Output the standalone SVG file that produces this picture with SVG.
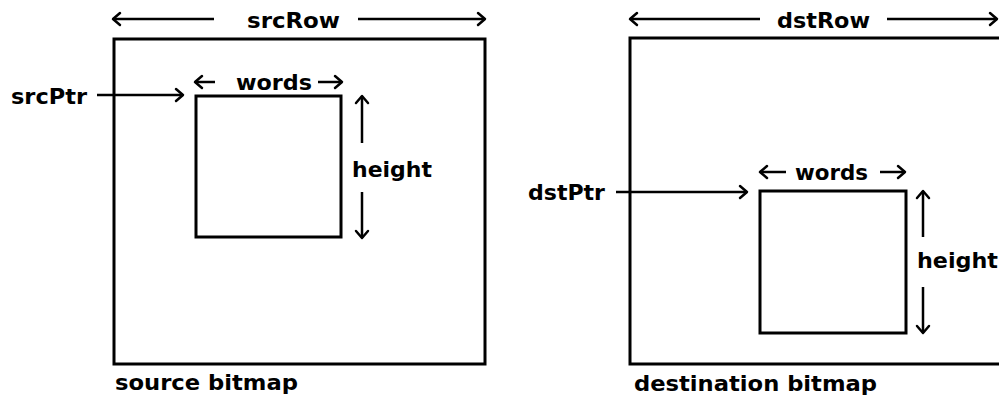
<svg xmlns="http://www.w3.org/2000/svg" width="999" height="400" viewBox="0 0 999 400">
<style>
  .box{fill:none;stroke:#000;stroke-width:3;stroke-linejoin:miter}
  .arr{fill:none;stroke:#000;stroke-width:2.5;marker-end:url(#ah)}
  .t{font-family:"DejaVu Sans","Liberation Sans",sans-serif;font-weight:bold;font-size:22px;fill:#000}
</style>
<defs>
  <marker id="ah" markerUnits="userSpaceOnUse" viewBox="-10 -8 12 16" markerWidth="12" markerHeight="16" refX="0" refY="0" orient="auto" overflow="visible">
    <path d="M-7,-6 L0,0 L-7,6" fill="none" stroke="#000" stroke-width="2.5" stroke-linecap="round" stroke-linejoin="round"/>
  </marker>
</defs>
<rect width="999" height="400" fill="#fff"/>

<g id="source-bitmap">
  <rect class="box" x="114" y="39" width="371" height="325"/>
  <text class="t" x="115" y="390" textLength="183" lengthAdjust="spacingAndGlyphs">source bitmap</text>
</g>
<g id="source-rect">
  <rect class="box" x="196" y="96" width="145" height="141"/>
</g>
<g id="dest-bitmap">
  <path class="box" d="M1002,38 L630,38 L630,364 L1002,364"/>
  <text class="t" x="634" y="391" textLength="243" lengthAdjust="spacingAndGlyphs">destination bitmap</text>
</g>
<g id="dest-rect">
  <rect class="box" x="760" y="191" width="146" height="142"/>
</g>

<g id="labels">
  <text class="t" x="247" y="28" textLength="93" lengthAdjust="spacingAndGlyphs">srcRow</text>
  <text class="t" x="236" y="90" textLength="76" lengthAdjust="spacingAndGlyphs">words</text>
  <text class="t" x="11" y="104" textLength="76" lengthAdjust="spacingAndGlyphs">srcPtr</text>
  <text class="t" x="352" y="177" textLength="80" lengthAdjust="spacingAndGlyphs">height</text>
  <text class="t" x="777" y="28" textLength="93" lengthAdjust="spacingAndGlyphs">dstRow</text>
  <text class="t" x="795" y="180" textLength="73" lengthAdjust="spacingAndGlyphs">words</text>
  <text class="t" x="528" y="200" textLength="77" lengthAdjust="spacingAndGlyphs">dstPtr</text>
  <text class="t" x="917" y="268" textLength="81" lengthAdjust="spacingAndGlyphs">height</text>
</g>

<g id="connectors">
  <line class="arr" x1="214" y1="19" x2="113" y2="19"/>
  <line class="arr" x1="358" y1="19" x2="485" y2="19"/>
  <line class="arr" x1="215" y1="82" x2="195" y2="82"/>
  <line class="arr" x1="318" y1="82" x2="342" y2="82"/>
  <line class="arr" x1="97" y1="95" x2="183" y2="95"/>
  <line class="arr" x1="362" y1="143" x2="362" y2="96"/>
  <line class="arr" x1="362" y1="192" x2="362" y2="238"/>

  <line class="arr" x1="760" y1="19" x2="630" y2="19"/>
  <line class="arr" x1="887" y1="19" x2="997" y2="19"/>
  <line class="arr" x1="786" y1="172" x2="760" y2="172"/>
  <line class="arr" x1="880" y1="172" x2="905" y2="172"/>
  <line class="arr" x1="616" y1="192" x2="747" y2="192"/>
  <line class="arr" x1="923" y1="237" x2="923" y2="191"/>
  <line class="arr" x1="923" y1="287" x2="923" y2="333"/>
</g>
</svg>
